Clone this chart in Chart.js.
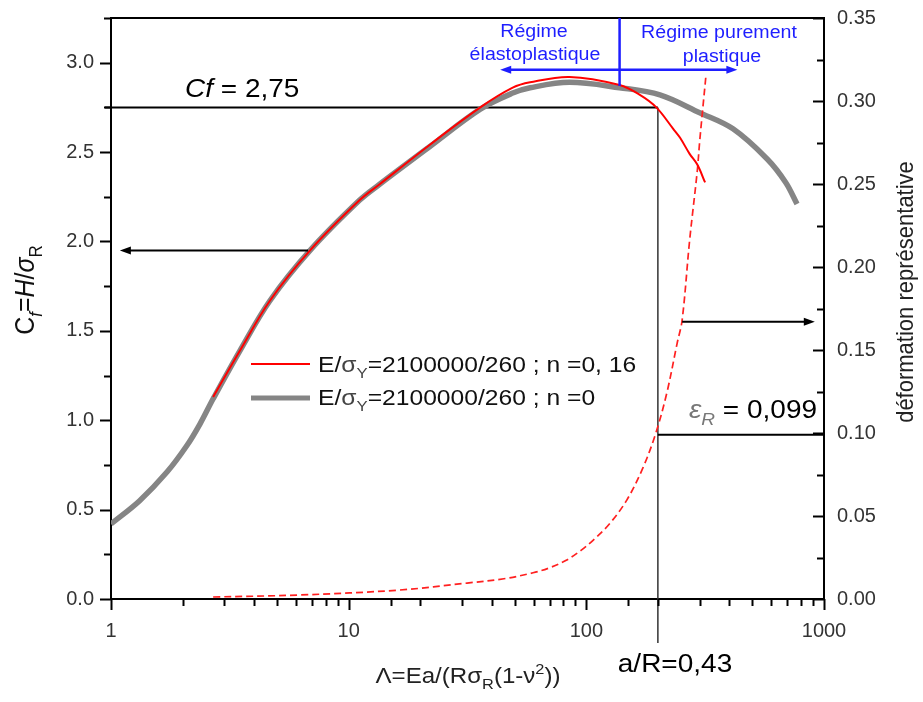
<!DOCTYPE html>
<html>
<head>
<meta charset="utf-8">
<script src="https://cdn.jsdelivr.net/npm/chart.js@4.4.1/dist/chart.umd.min.js"></script>
<style>
  body { margin: 0; background: #fff; }
  #wrap { width: 923px; height: 702px; }
</style>
</head>
<body>
<div id="wrap"><canvas id="myChart" width="923" height="702"></canvas></div>
<script>
// n = 0 (gray band), Cf vs Lambda
const grayLambda = [1, 1.32, 1.72, 2.09, 2.37, 2.69, 3.49, 4.67, 6.88, 11.1, 13.5, 21.9, 35.8, 49, 58, 85, 138, 204, 300, 414, 578, 690, 770];
const grayCf = [0.42, 0.55, 0.71, 0.86, 0.98, 1.12, 1.39, 1.67, 1.95, 2.23, 2.32, 2.53, 2.74, 2.83, 2.86, 2.89, 2.86, 2.82, 2.72, 2.63, 2.46, 2.33, 2.21];

// n = 0,16 (red), Cf vs Lambda
const redLambda = [2.69, 3.49, 4.67, 6.88, 11.1, 13.5, 21.9, 35.8, 49, 58, 85, 138, 168, 197, 232, 248, 272, 293, 316];
const redCf = [1.13, 1.39, 1.67, 1.95, 2.23, 2.32, 2.54, 2.75, 2.86, 2.89, 2.92, 2.875, 2.82, 2.75, 2.63, 2.58, 2.49, 2.43, 2.33];

// representative strain (right axis), red dashed
const strainLambda = [2.69, 6.2, 16.4, 31.5, 45, 59.7, 70, 82.7, 95, 107, 125, 148, 173, 196, 218, 241, 253, 272, 293, 300, 318];
const strainValue = [0.0012, 0.0024, 0.0054, 0.0096, 0.0122, 0.0158, 0.0188, 0.0235, 0.0293, 0.0355, 0.0452, 0.0596, 0.079, 0.0999, 0.124, 0.154, 0.168, 0.216, 0.258, 0.276, 0.314];

const xTickLabels = [1, 10, 100, 1000];

// reference values drawn on the chart
const cfValue = 2.75;
const lambdaR = 200;
const epsR = 0.099;
const regimeLambda = 138;
const regimeCfLow = 2.87;
const regimeArrowCf = 2.96;
const regimeArrowFrom = 43.4;
const regimeArrowTo = 432;
const leftArrowCf = 1.95;
const leftArrowFrom = 6.75;
const leftArrowTo = 1.09;
const rightArrowEps = 0.167;
const rightArrowFrom = 253;
const rightArrowTo = 915;

const FONT = '"Liberation Sans", Arial, Helvetica, sans-serif';
const BLUE = '#1e1eff';
const STRETCH = 1.12; // the original figure is a bit wider than tall

const toPoints = (xs, ys) => xs.map((x, i) => ({ x: x, y: ys[i] }));

// draw a run of text pieces (sub / sup / italic), left aligned or centred on x
function drawRich(ctx, parts, x, y, size, align, color, rotate) {
    const runs = parts.map(p => {
        const s = (p.sub || p.sup) ? size * 0.68 : size;
        const font = (p.italic ? 'italic ' : '') + s + 'px ' + FONT;
        ctx.font = font;
        return {
            t: p.t, font: font, color: p.color || color,
            w: ctx.measureText(p.t).width,
            dy: p.sub ? size * 0.28 : p.sup ? -size * 0.42 : 0
        };
    });
    const total = runs.reduce((a, r) => a + r.w, 0);
    ctx.save();
    ctx.translate(x, y);
    if (rotate) {
        ctx.rotate(-Math.PI / 2);
        ctx.scale(1, STRETCH);
    } else {
        ctx.scale(STRETCH, 1);
    }
    let cx = align === 'center' ? -total / 2 : 0;
    ctx.textAlign = 'left';
    ctx.textBaseline = 'alphabetic';
    runs.forEach(r => {
        ctx.font = r.font;
        ctx.fillStyle = r.color;
        ctx.fillText(r.t, cx, r.dy);
        cx += r.w;
    });
    ctx.restore();
}

function seg(ctx, x1, y1, x2, y2, color, width) {
    ctx.beginPath();
    ctx.strokeStyle = color;
    ctx.lineWidth = width;
    ctx.moveTo(x1, y1);
    ctx.lineTo(x2, y2);
    ctx.stroke();
}

function arrow(ctx, x1, y, x2, color, width) {
    const dir = x2 > x1 ? 1 : -1;
    seg(ctx, x1, y, x2 - dir * 6, y, color, width);
    ctx.beginPath();
    ctx.fillStyle = color;
    ctx.moveTo(x2, y);
    ctx.lineTo(x2 - dir * 11, y - 4);
    ctx.lineTo(x2 - dir * 11, y + 4);
    ctx.closePath();
    ctx.fill();
}

function drawScaleTicks(ctx, scale, side) {
    scale.ticks.forEach(t => {
        const major = t.label !== '' && t.label !== undefined && t.label !== null;
        const len = major ? 11 : 7;
        const p = Math.round(scale.getPixelForValue(t.value)) + 0.5;
        if (side === 'left') seg(ctx, scale.right - len, p, scale.right, p, '#000', 2);
        if (side === 'right') seg(ctx, scale.left - len, p, scale.left, p, '#000', 2);
        if (side === 'bottom') seg(ctx, p, scale.top, p, scale.top + len, '#000', 2);
    });
}

const annotations = {
    id: 'annotations',
    beforeDatasetsDraw(chart) {
        const { ctx, chartArea, scales: { x, y, y2 } } = chart;
        ctx.save();
        // Cf = 2,75 line
        seg(ctx, x.getPixelForValue(1) - 6, y.getPixelForValue(cfValue), x.getPixelForValue(lambdaR), y.getPixelForValue(cfValue), '#000', 2);
        // vertical a/R line
        seg(ctx, x.getPixelForValue(lambdaR), y.getPixelForValue(cfValue), x.getPixelForValue(lambdaR), chartArea.bottom + 44, '#333', 1.5);
        // eps_R line
        seg(ctx, x.getPixelForValue(lambdaR), y2.getPixelForValue(epsR), chartArea.right, y2.getPixelForValue(epsR), '#000', 2);
        ctx.restore();
    },
    afterDatasetsDraw(chart) {
        const { ctx, chartArea, scales: { x, y, y2 } } = chart;
        ctx.save();
        // top frame
        seg(ctx, chartArea.left, chartArea.top, chartArea.right, chartArea.top, '#000', 2);
        drawScaleTicks(ctx, y, 'left');
        drawScaleTicks(ctx, y2, 'right');
        drawScaleTicks(ctx, x, 'bottom');

        // regime separation (blue)
        const rx = x.getPixelForValue(regimeLambda);
        seg(ctx, rx, chartArea.top, rx, y.getPixelForValue(regimeCfLow), BLUE, 2.5);
        const ay = y.getPixelForValue(regimeArrowCf);
        arrow(ctx, rx, ay, x.getPixelForValue(regimeArrowFrom), BLUE, 2.5);
        arrow(ctx, rx, ay, x.getPixelForValue(regimeArrowTo), BLUE, 2.5);
        drawRich(ctx, [{ t: 'Régime' }], 534, 37, 17.5, 'center', BLUE);
        drawRich(ctx, [{ t: 'élastoplastique' }], 535, 60, 17.5, 'center', BLUE);
        drawRich(ctx, [{ t: 'Régime purement' }], 719, 38, 17.5, 'center', BLUE);
        drawRich(ctx, [{ t: 'plastique' }], 722, 62, 17.5, 'center', BLUE);

        // black arrows pointing to the axes
        arrow(ctx, x.getPixelForValue(leftArrowFrom), y.getPixelForValue(leftArrowCf), x.getPixelForValue(leftArrowTo), '#000', 2);
        arrow(ctx, x.getPixelForValue(rightArrowFrom), y2.getPixelForValue(rightArrowEps), x.getPixelForValue(rightArrowTo), '#000', 2);

        // annotations text
        drawRich(ctx, [{ t: 'Cf', italic: true }, { t: ' = 2,75' }], 185, 97, 25, 'left', '#000');
        drawRich(ctx, [{ t: 'ε', italic: true, color: '#777' }, { t: 'R', sub: true, italic: true, color: '#777' }, { t: ' = 0,099' }], 689, 418, 25, 'left', '#000');
        drawRich(ctx, [{ t: 'a/R=0,43' }], 675, 672, 25, 'center', '#000');

        // legend
        seg(ctx, 251, 364, 310, 364, '#ff0000', 2);
        seg(ctx, 251, 398, 310, 398, '#858585', 5);
        drawRich(ctx, [{ t: 'E/' }, { t: 'σ', color: '#444' }, { t: 'Y', sub: true, color: '#444' }, { t: '=2100000/260 ; n =0, 16' }], 318, 372, 22, 'left', '#111');
        drawRich(ctx, [{ t: 'E/' }, { t: 'σ', color: '#444' }, { t: 'Y', sub: true, color: '#444' }, { t: '=2100000/260 ; n =0' }], 318, 405, 22, 'left', '#111');

        // axis titles
        drawRich(ctx, [{ t: 'Λ=Ea/(R' }, { t: 'σ' }, { t: 'R', sub: true }, { t: '(1-' }, { t: 'ν' }, { t: '2', sup: true }, { t: '))' }], 468, 683, 21.5, 'center', '#222');
        drawRich(ctx, [{ t: 'C' }, { t: 'f', sub: true, italic: true }, { t: '=' }, { t: 'H', italic: true }, { t: '/' }, { t: 'σ', italic: true }, { t: 'R', sub: true }], 34, 290, 25, 'center', '#111', true);
        drawRich(ctx, [{ t: 'déformation représentative' }], 913, 292, 22, 'center', '#222', true);

        ctx.restore();
    }
};

const ctx = document.getElementById('myChart');

// keep the plot frame where the reference has it
const noEdgePadding = (scale) => {
    scale.paddingTop = 0;
    scale.paddingBottom = 0;
    scale.paddingLeft = 0;
    scale.paddingRight = 0;
};

new Chart(ctx, {
    type: 'line',
    data: {
        datasets: [
            {
                label: 'E/σY=2100000/260 ; n =0, 16',
                data: toPoints(redLambda, redCf),
                borderColor: '#ff0000',
                borderWidth: 2,
                pointRadius: 0,
                tension: 0.35,
                yAxisID: 'y'
            },
            {
                label: 'strain',
                data: toPoints(strainLambda, strainValue),
                borderColor: '#ff2020',
                borderWidth: 1.7,
                borderDash: [7, 4],
                pointRadius: 0,
                tension: 0.35,
                yAxisID: 'y2'
            },
            {
                label: 'E/σY=2100000/260 ; n =0',
                data: toPoints(grayLambda, grayCf),
                borderColor: '#858585',
                borderWidth: 5.5,
                pointRadius: 0,
                tension: 0.35,
                yAxisID: 'y'
            }
        ]
    },
    options: {
        responsive: false,
        animation: false,
        events: [],
        layout: { padding: { top: 18, left: 0, right: 0, bottom: 0 } },
        plugins: {
            legend: { display: false },
            tooltip: { enabled: false }
        },
        scales: {
            x: {
                type: 'logarithmic',
                min: 1,
                max: 1000,
                grid: { display: false, drawTicks: false },
                border: { display: true, color: '#000', width: 2 },
                ticks: {
                    autoSkip: false,
                    maxRotation: 0,
                    padding: 20,
                    color: '#333',
                    font: { family: FONT, size: 20 },
                    callback: (v) => xTickLabels.some(t => Math.abs(t - v) < 1e-6) ? String(Math.round(v)) : ''
                },
                afterFit: (scale) => { scale.height = 103; noEdgePadding(scale); }
            },
            y: {
                position: 'left',
                min: 0,
                max: 3.25,
                grid: { display: false, drawTicks: false },
                border: { display: true, color: '#000', width: 2 },
                ticks: {
                    stepSize: 0.25,
                    autoSkip: false,
                    padding: 17,
                    color: '#333',
                    font: { family: FONT, size: 20 },
                    callback: (v) => Math.abs(v * 2 - Math.round(v * 2)) < 1e-6 ? v.toFixed(1) : ''
                },
                afterFit: (scale) => { scale.width = 111; noEdgePadding(scale); }
            },
            y2: {
                position: 'right',
                min: 0,
                max: 0.35,
                grid: { display: false, drawTicks: false },
                border: { display: true, color: '#000', width: 2 },
                ticks: {
                    stepSize: 0.025,
                    autoSkip: false,
                    padding: 13,
                    color: '#333',
                    font: { family: FONT, size: 20 },
                    callback: (v) => Math.abs(v * 20 - Math.round(v * 20)) < 1e-6 ? v.toFixed(2) : ''
                },
                afterFit: (scale) => { scale.width = 99; noEdgePadding(scale); }
            }
        }
    },
    plugins: [annotations]
});
</script>
</body>
</html>
